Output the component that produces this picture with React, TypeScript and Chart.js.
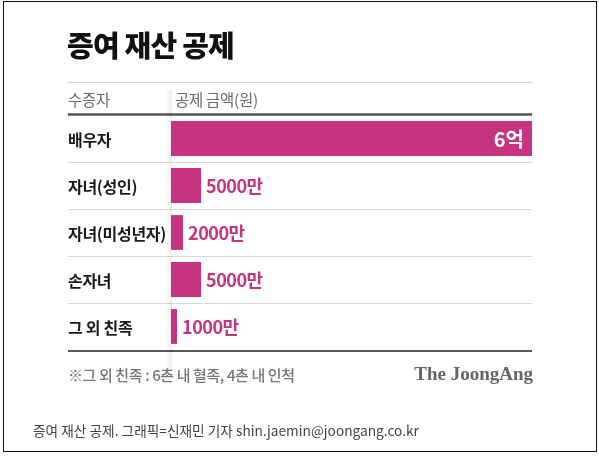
import React, { useEffect, useRef } from "react";
import { Chart, registerables } from "chart.js";

Chart.register(...registerables);

// Data (values in 만원)
const categories = ["배우자", "자녀(성인)", "자녀(미성년자)", "손자녀", "그 외 친족"];
const values = [60000, 5000, 2000, 5000, 1000];
const valueLabels = ["6억", "5000만", "2000만", "5000만", "1000만"];
const xMax = 60000;

const titleText = "증여 재산 공제";
const headerLeft = "수증자";
const headerRight = "공제 금액(원)";
const noteText = "※그 외 친족 : 6촌 내 혈족, 4촌 내 인척";
const brandText = "The JoongAng";
const captionText = "증여 재산 공제. 그래픽=신재민 기자 shin.jaemin@joongang.co.kr";

const W = 599;
const H = 458;
const LEFT = 68;
const RIGHT = 532;
const BAR_COLOR = "#C8337F";
const KR = '"Noto Sans CJK KR", "Noto Sans", sans-serif';

const decorPlugin = {
  id: "decor",
  beforeDraw(chart: any) {
    const ctx = chart.ctx as CanvasRenderingContext2D;
    const area = chart.chartArea;
    const yScale = chart.scales.y;
    ctx.save();
    ctx.fillStyle = "#fff";
    ctx.fillRect(0, 0, W, H);
    // outer frame
    ctx.strokeStyle = "#111";
    ctx.lineWidth = 1;
    ctx.strokeRect(3.5, 1.5, 593, 450);

    // title
    ctx.fillStyle = "#111";
    ctx.font = `900 29px ${KR}`;
    ctx.textBaseline = "middle";
    ctx.textAlign = "left";
    (ctx as any).letterSpacing = "-0.8px";
    ctx.fillText(titleText, LEFT - 1, 46);
    (ctx as any).letterSpacing = "0px";

    // top light line
    ctx.strokeStyle = "#d6d6d6";
    ctx.lineWidth = 1;
    ctx.beginPath();
    ctx.moveTo(LEFT, 82.5);
    ctx.lineTo(RIGHT, 82.5);
    ctx.stroke();

    // header
    ctx.fillStyle = "#6a6a6a";
    ctx.font = `400 15.5px ${KR}`;
    (ctx as any).letterSpacing = "-0.3px";
    ctx.fillText(headerLeft, LEFT, 100);
    ctx.fillText(headerRight, area.left + 4, 100);
    (ctx as any).letterSpacing = "0px";

    // header dark line
    ctx.strokeStyle = "#555";
    ctx.lineWidth = 2.5;
    ctx.beginPath();
    ctx.moveTo(LEFT, area.top - 0.5);
    ctx.lineTo(RIGHT, area.top - 0.5);
    ctx.stroke();

    // row separators
    ctx.strokeStyle = "#d9d9d9";
    ctx.lineWidth = 1;
    for (let i = 0; i < categories.length - 1; i++) {
      const yy = Math.round((yScale.getPixelForValue(i) + yScale.getPixelForValue(i + 1)) / 2) + 0.5;
      ctx.beginPath();
      ctx.moveTo(LEFT, yy);
      ctx.lineTo(RIGHT, yy);
      ctx.stroke();
    }

    // subtle shadow at bar baseline
    const g = ctx.createLinearGradient(area.left - 6, 0, area.left + 1, 0);
    g.addColorStop(0, "rgba(0,0,0,0)");
    g.addColorStop(1, "rgba(0,0,0,0.07)");
    ctx.fillStyle = g;
    ctx.fillRect(area.left - 6, 90, 7, area.bottom + 20 - 90);

    // bottom line
    ctx.strokeStyle = "#222";
    ctx.lineWidth = 1.5;
    ctx.beginPath();
    ctx.moveTo(LEFT, area.bottom + 1);
    ctx.lineTo(RIGHT, area.bottom + 1);
    ctx.stroke();

    // note
    ctx.fillStyle = "#777";
    ctx.font = `500 15px ${KR}`;
    (ctx as any).letterSpacing = "-0.4px";
    ctx.fillText(noteText, LEFT, 375);
    (ctx as any).letterSpacing = "0px";

    // brand
    ctx.fillStyle = "#666";
    ctx.font = `700 19px "Liberation Serif", "DejaVu Serif", serif`;
    ctx.textAlign = "right";
    ctx.fillText(brandText, RIGHT + 1, 375);

    // caption
    ctx.fillStyle = "#444";
    ctx.font = `400 13.7px ${KR}`;
    ctx.textAlign = "left";
    ctx.fillText(captionText, 33, 431);
    ctx.restore();
  },
  afterDatasetsDraw(chart: any) {
    const ctx = chart.ctx as CanvasRenderingContext2D;
    const meta = chart.getDatasetMeta(0);
    const yScale = chart.scales.y;
    ctx.save();
    ctx.textBaseline = "middle";
    // category labels
    ctx.fillStyle = "#1a1a1a";
    ctx.font = `700 16px ${KR}`;
    ctx.textAlign = "left";
    (ctx as any).letterSpacing = "-0.3px";
    categories.forEach((c, i) => {
      ctx.fillText(c, LEFT, yScale.getPixelForValue(i) + 1);
    });
    (ctx as any).letterSpacing = "0px";
    // value labels
    meta.data.forEach((bar: any, i: number) => {
      const w = bar.x - bar.base;
      if (w > 100) {
        ctx.fillStyle = "#fff";
        ctx.font = `700 20px ${KR}`;
        ctx.textAlign = "right";
        ctx.fillText(valueLabels[i], bar.x - 8, bar.y + 1);
      } else {
        ctx.fillStyle = BAR_COLOR;
        ctx.font = `700 18px ${KR}`;
        ctx.textAlign = "left";
        (ctx as any).letterSpacing = "-0.5px";
        ctx.fillText(valueLabels[i], bar.x + 5, bar.y + 1);
        (ctx as any).letterSpacing = "0px";
      }
    });
    ctx.restore();
  },
};

export default function App() {
  const ref = useRef<HTMLCanvasElement | null>(null);
  useEffect(() => {
    if (!ref.current) return;
    const chart = new Chart(ref.current, {
      type: "bar",
      data: {
        labels: categories,
        datasets: [
          {
            data: values,
            backgroundColor: BAR_COLOR,
            borderWidth: 0,
            barPercentage: 0.74,
            categoryPercentage: 1,
          },
        ],
      },
      options: {
        indexAxis: "y",
        responsive: false,
        animation: false,
        devicePixelRatio: 1,
        layout: { padding: { left: 171, right: W - RIGHT, top: 115, bottom: H - 350 } },
        scales: {
          x: { display: false, min: 0, max: xMax },
          y: { display: false },
        },
        plugins: {
          legend: { display: false },
          tooltip: { enabled: false },
        },
      },
      plugins: [decorPlugin],
    });
    return () => chart.destroy();
  }, []);
  return (
    <div style={{ position: "fixed", left: 0, top: 0, width: W, height: H, background: "#fff" }}>
      <canvas ref={ref} width={W} height={H} style={{ width: W, height: H, display: "block" }} />
    </div>
  );
}
